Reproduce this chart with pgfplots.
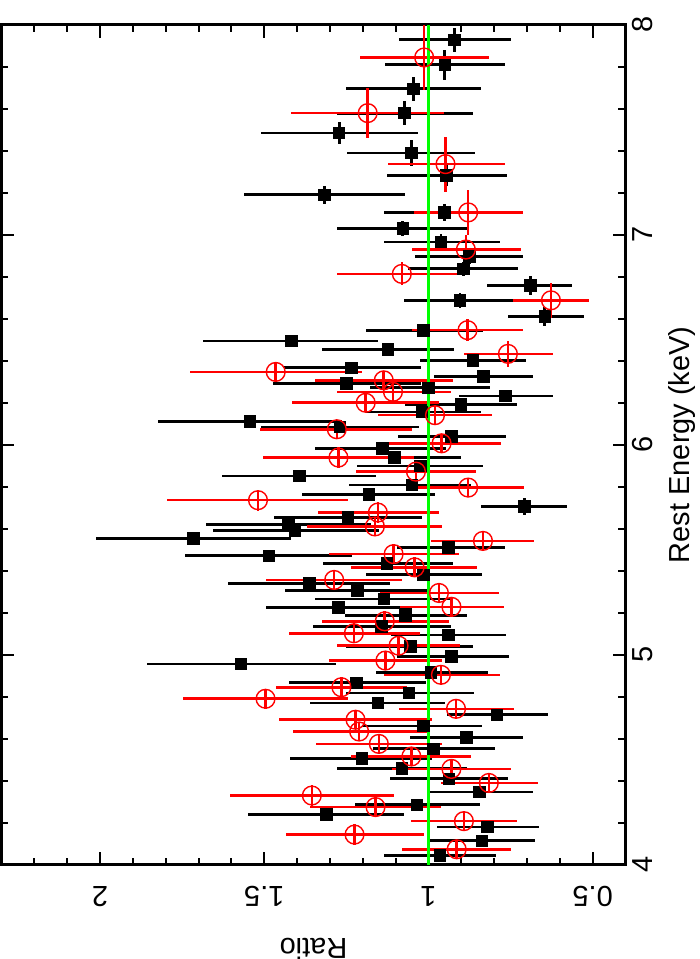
\documentclass[border=0pt]{standalone}
\usepackage{pgfplots}
\usepackage{pgfplotstable}
\pgfplotsset{compat=1.18}
\usepackage{fontspec}
\setmainfont{Liberation Sans}
\pgfplotstableread{
E dE R ep em
7.929 0.056 0.921 0.170 0.171
7.810 0.071 0.950 0.181 0.182
7.696 0.058 1.045 0.207 0.206
7.580 0.057 1.074 0.205 0.210
7.485 0.052 1.272 0.237 0.239
7.390 0.060 1.052 0.195 0.195
7.282 0.050 0.945 0.181 0.185
7.191 0.042 1.316 0.246 0.246
7.107 0.040 0.952 0.184 0.172
7.030 0.036 1.078 0.201 0.194
6.966 0.036 0.962 0.174 0.179
6.898 0.035 0.876 0.164 0.163
6.838 0.035 0.894 0.168 0.168
6.758 0.044 0.690 0.131 0.128
6.689 0.036 0.904 0.170 0.166
6.612 0.044 0.646 0.112 0.119
6.545 0.030 1.015 0.176 0.181
6.494 0.024 1.418 0.267 0.264
6.454 0.025 1.123 0.202 0.202
6.402 0.025 0.864 0.161 0.161
6.367 0.025 1.235 0.205 0.213
6.327 0.025 0.832 0.151 0.151
6.293 0.025 1.249 0.225 0.227
6.271 0.025 1.000 0.178 0.188
6.232 0.025 0.765 0.142 0.145
6.193 0.025 0.901 0.169 0.170
6.156 0.025 1.020 0.174 0.179
6.110 0.025 1.544 0.280 0.280
6.085 0.025 1.270 0.240 0.240
6.039 0.025 0.930 0.164 0.167
5.983 0.025 1.141 0.204 0.196
5.939 0.025 1.103 0.202 0.202
5.899 0.025 1.025 0.194 0.191
5.851 0.025 1.393 0.236 0.234
5.808 0.025 1.050 0.192 0.180
5.764 0.025 1.181 0.204 0.201
5.706 0.040 0.708 0.131 0.131
5.653 0.025 1.245 0.225 0.225
5.622 0.025 1.426 0.251 0.251
5.590 0.025 1.406 0.251 0.256
5.553 0.025 1.716 0.296 0.296
5.510 0.025 0.940 0.156 0.174
5.471 0.025 1.486 0.256 0.254
5.435 0.025 1.126 0.196 0.200
5.381 0.025 1.015 0.176 0.179
5.340 0.025 1.363 0.246 0.247
5.305 0.025 1.217 0.219 0.217
5.265 0.025 1.136 0.209 0.206
5.225 0.025 1.274 0.221 0.224
5.186 0.025 1.070 0.184 0.188
5.134 0.025 1.143 0.209 0.213
5.094 0.025 0.940 0.174 0.177
5.040 0.025 1.055 0.195 0.191
4.993 0.025 0.930 0.166 0.174
4.956 0.025 1.571 0.287 0.289
4.916 0.025 0.992 0.167 0.173
4.866 0.025 1.219 0.206 0.211
4.817 0.025 1.060 0.190 0.199
4.770 0.025 1.154 0.207 0.204
4.714 0.030 0.792 0.150 0.157
4.660 0.025 1.015 0.184 0.179
4.607 0.025 0.884 0.171 0.171
4.552 0.025 0.985 0.185 0.189
4.507 0.025 1.203 0.220 0.215
4.459 0.025 1.081 0.198 0.197
4.409 0.025 0.938 0.180 0.180
4.346 0.025 0.844 0.151 0.161
4.285 0.025 1.035 0.190 0.191
4.238 0.025 1.310 0.239 0.237
4.179 0.025 0.821 0.154 0.158
4.113 0.025 0.837 0.158 0.162
4.044 0.025 0.965 0.171 0.171
}\blackdata
\pgfplotstableread{
E dE R ep em
7.845 0.155 1.013 0.195 0.196
7.580 0.120 1.185 0.233 0.233
7.337 0.131 0.948 0.176 0.180
7.107 0.107 0.879 0.166 0.166
6.930 0.070 0.886 0.164 0.168
6.814 0.055 1.081 0.198 0.197
6.688 0.083 0.627 0.116 0.115
6.546 0.053 0.881 0.169 0.168
6.433 0.062 0.758 0.134 0.136
6.347 0.045 1.465 0.260 0.262
6.307 0.044 1.136 0.209 0.210
6.252 0.045 1.108 0.171 0.176
6.200 0.042 1.191 0.224 0.224
6.141 0.045 0.980 0.174 0.174
6.074 0.040 1.279 0.235 0.229
6.007 0.046 0.960 0.176 0.182
5.939 0.048 1.274 0.230 0.229
5.872 0.044 1.038 0.182 0.184
5.796 0.045 0.879 0.166 0.169
5.736 0.050 1.519 0.277 0.275
5.677 0.048 1.154 0.183 0.187
5.611 0.045 1.163 0.207 0.205
5.542 0.048 0.834 0.158 0.156
5.479 0.048 1.106 0.196 0.199
5.416 0.048 1.042 0.193 0.191
5.356 0.048 1.287 0.208 0.208
5.294 0.048 0.968 0.181 0.182
5.228 0.048 0.930 0.156 0.159
5.159 0.048 1.133 0.191 0.195
5.102 0.048 1.227 0.198 0.200
5.043 0.045 1.091 0.186 0.187
4.972 0.045 1.131 0.171 0.171
4.904 0.045 0.962 0.174 0.181
4.845 0.048 1.265 0.200 0.200
4.790 0.048 1.496 0.251 0.252
4.742 0.046 0.916 0.175 0.176
4.690 0.045 1.222 0.233 0.234
4.634 0.043 1.211 0.200 0.209
4.575 0.043 1.151 0.191 0.191
4.515 0.046 1.052 0.185 0.183
4.456 0.048 0.930 0.181 0.182
4.389 0.048 0.816 0.147 0.150
4.329 0.048 1.355 0.249 0.249
4.274 0.048 1.161 0.199 0.199
4.207 0.048 0.892 0.161 0.162
4.143 0.050 1.225 0.210 0.210
4.073 0.045 0.914 0.165 0.166
}\reddata
\begin{document}
\begin{tikzpicture}
\begin{axis}[
  scale only axis, width=312.5pt, height=420.5pt,
  xmin=0.4, xmax=2.3, ymin=4, ymax=8, x dir=reverse,
  xtick={0.5,1,1.5,2}, xticklabels={0.5,1,1.5,2},
  minor xtick={0.6,0.7,0.8,0.9,1.1,1.2,1.3,1.4,1.6,1.7,1.8,1.9,2.1,2.2},
  ytick={4,5,6,7,8}, yticklabels={4,5,6,7,8},
  minor ytick={4.2,4.4,4.6,4.8,5.2,5.4,5.6,5.8,6.2,6.4,6.6,6.8,7.2,7.4,7.6,7.8},
  tick align=inside,
  major tick length=6.5pt, minor tick length=3.5pt,
  every tick/.style={black, line width=1pt},
  axis line style={line width=1.5pt},
  yticklabel pos=right,
  tick label style={font=\fontsize{14.5}{17}\selectfont},
  label style={font=\fontsize{14.5}{17}\selectfont},
  xticklabel style={anchor=south, yshift=-7.5pt, rotate=180},
  yticklabel style={anchor=north, rotate=90},
  xlabel={Ratio}, ylabel={Rest Energy (keV)},
  xlabel style={anchor=south, inner ysep=0pt, yshift=-11.8pt, rotate=180},
  ylabel style={inner ysep=2pt, yshift=-2pt},
  clip=true,
]
\addplot[only marks, mark=square*, mark size=2.9pt, black,
  error bars/.cd, x dir=both, x explicit, y dir=both, y explicit,
  error mark=none, error bar style={line width=1.4pt, black}]
  table[x=R, y=E, x error plus=ep, x error minus=em, y error plus=dE, y error minus=dE] {\blackdata};
\addplot[only marks, mark=o, mark size=4.7pt, red, mark options={line width=0.7pt},
  error bars/.cd, x dir=both, x explicit, y dir=both, y explicit,
  error mark=none, error bar style={line width=1.3pt, red}]
  table[x=R, y=E, x error plus=ep, x error minus=em, y error plus=dE, y error minus=dE] {\reddata};
\addplot[green, line width=1.5pt] coordinates {(1,4) (1,8)};
\end{axis}
\path ([yshift=12.5pt]current axis.north west) coordinate (topmargin);
\end{tikzpicture}
\end{document}
